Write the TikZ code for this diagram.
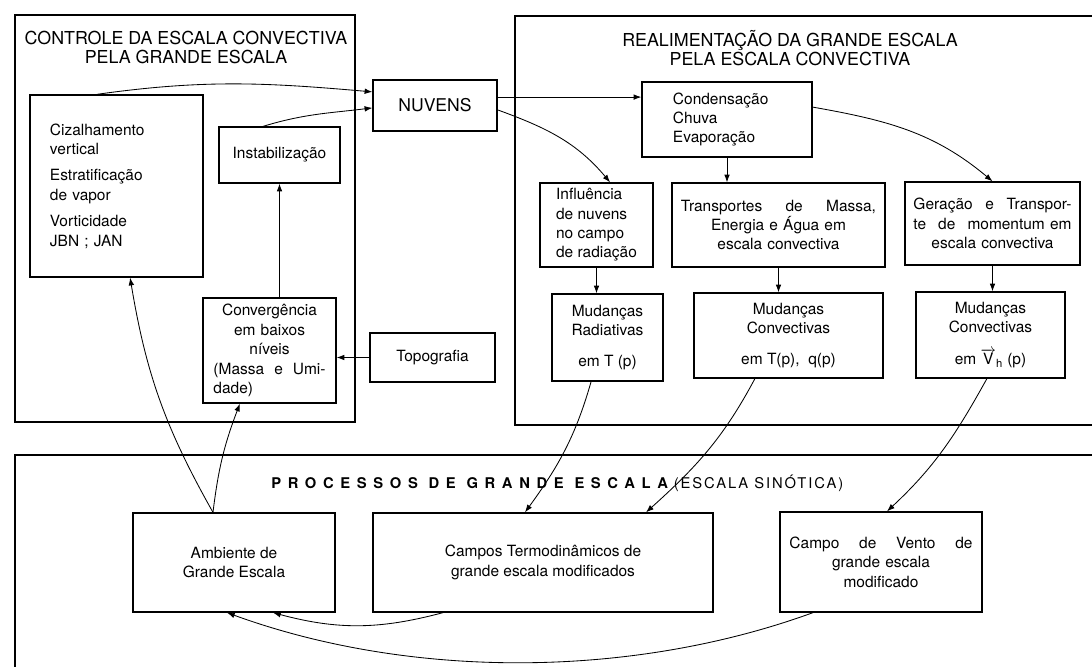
\documentclass[tikz,border=0pt]{standalone}
\usepackage{fontspec}
\setmainfont{TeX Gyre Heros}
\usetikzlibrary{arrows.meta}
\begin{document}
\begin{tikzpicture}[x=0.025cm,y=0.025cm,
  box/.style={draw,line width=0.9pt,inner sep=2pt,font=\fontsize{11}{13.8}\selectfont},
  arr/.style={semithick,-{Latex[length=5.5pt,width=4pt]}},
  ttl/.style={align=center,font=\fontsize{12.7}{13.5}\selectfont}]
\clip (0,0) rectangle (1092,666);
\draw[line width=0.9pt] (15,651) rectangle (355,244);
\draw[line width=0.9pt] (515,650) rectangle (1100,241);
\draw[line width=0.9pt] (15,211) rectangle (1100,-20);
\node[ttl] (ctrltitle) at (186,618.5) {CONTROLE DA ESCALA CONVECTIVA\\PELA GRANDE ESCALA};
\node[ttl] (realtitle) at (790,617.5) {REALIMENTAÇÃO DA GRANDE ESCALA\\PELA ESCALA CONVECTIVA};
\node[anchor=west,inner sep=0pt,font=\fontsize{10.5}{12}\selectfont] (proctitle) at (271,183)
  {{\bfseries\addfontfeature{LetterSpace=45}PROCESSOS DE GRANDE ESCALA}\hspace{4pt}{\addfontfeature{LetterSpace=13}(ESCALA SINÓTICA)}};
\node[box,minimum width=4.325cm,minimum height=4.55cm,text width=3.325cm,align=left] (cis) at (116.5,480)
  {Cizalhamento\\vertical\\[5pt]Estratificação\\de vapor\\[5pt]Vorticidade\\JBN ; JAN};
\node[box,minimum width=3.025cm,minimum height=1.4cm] (inst) at (279.5,511) {Instabilização};
\node[box,minimum width=3.325cm,minimum height=2.625cm,text width=2.8cm,align=center] (conv) at (269.5,315.5)
  {Convergência\\em baixos\\níveis\\\makebox[2.8cm]{(Massa\hfill e\hfill Umi-}\\\makebox[2.8cm]{dade)\hfill}};
\node[box,minimum width=3.1cm,minimum height=1.275cm,font=\fontsize{12.5}{14}\selectfont] (nuv) at (435,560.5) {NUVENS};
\node[box,minimum width=3.125cm,minimum height=1.225cm] (topo) at (432.5,308.5) {Topografia};
\node[box,minimum width=4.25cm,minimum height=1.875cm,text width=2.7cm,align=left] (cond) at (727,546.5)
  {Condensação\\Chuva\\Evaporação};
\node[box,minimum width=2.825cm,minimum height=2.1cm,align=left] (infl) at (596.5,441)
  {Influência\\de nuvens\\no campo\\de radiação};
\node[box,minimum width=5.325cm,minimum height=2.1cm,text width=4.875cm,align=center] (trans) at (778.5,441)
  {\makebox[4.875cm]{Transportes\hfill de\hfill Massa,}\\Energia e Água em\\escala convectiva};
\node[box,minimum width=4.375cm,minimum height=2.075cm,text width=3.95cm,align=center] (ger) at (992.5,442.5)
  {\makebox[3.95cm]{Geração\hfill e\hfill Transpor-}\\\makebox[3.95cm]{te\hfill de\hfill momentum em}\\escala convectiva};
\node[box,minimum width=2.775cm,minimum height=2.175cm,align=center] (mrad) at (607.5,328.5)
  {Mudanças\\Radiativas\\[8pt]em T (p)};
\node[box,minimum width=4.725cm,minimum height=2.125cm,align=center] (mconv) at (788.5,330.5)
  {Mudanças\\Convectivas\\[8pt]em T(p),\ \ q(p)};
\node[box,minimum width=3.725cm,minimum height=2.15cm,align=center] (mvh) at (990.5,331)
  {Mudanças\\Convectivas\\[9pt]em $\overrightarrow{\mbox{V}}_{\mbox{\footnotesize h}}$ (p)};
\node[box,minimum width=5.05cm,minimum height=2.475cm,align=center] (amb) at (234,103.5)
  {Ambiente de\\Grande Escala};
\node[box,minimum width=8.5cm,minimum height=2.475cm,align=center] (campos) at (543,103.5)
  {Campos Termodinâmicos de\\grande escala modificados};
\node[box,minimum width=5.05cm,minimum height=2.5cm,text width=4.575cm,align=center] (vento) at (881,104)
  {\makebox[4.575cm]{Campo\hfill de\hfill Vento\hfill de}\\grande escala\\modificado};
\draw[arr] ([xshift=-0.49cm]cis.north) to[out=8,in=175] ([yshift=0.34cm]nuv.west);
\draw[arr] ([xshift=-0.41cm]inst.north) to[out=17,in=187] ([yshift=-0.06cm]nuv.west);
\draw[arr] ([yshift=0.21cm]nuv.east) -- ([yshift=0.21cm]nuv.east -| cond.west);
\draw[arr] ([yshift=-0.11cm]nuv.east) to[out=-20,in=130] ([xshift=0.34cm]infl.north);
\draw[arr] ([yshift=0.31cm]cond.east) to[out=-10,in=140] (ger.north);
\draw[arr] (cond.south) -- (cond.south |- trans.north);
\draw[arr] (infl.south) -- (infl.south |- mrad.north);
\draw[arr] (trans.south) -- (trans.south |- mconv.north);
\draw[arr] (ger.south) -- (ger.south |- mvh.north);
\draw[arr] (inst.south |- conv.north) -- (inst.south);
\draw[arr] (topo.west) -- (topo.west -| conv.east);
\draw[arr] ([xshift=-0.525cm]amb.north) to[bend left=10] ([xshift=0.34cm]cis.south);
\draw[arr] ([xshift=-0.525cm]amb.north) to[bend left=7] ([xshift=-0.74cm]conv.south);
\draw[arr] ([xshift=-0.41cm]mrad.south) to[out=254,in=54] ([xshift=-0.45cm]campos.north);
\draw[arr] ([xshift=-0.84cm]mconv.south) to[out=242,in=42] ([xshift=2.575cm]campos.north);
\draw[arr] ([xshift=-0.09cm]mvh.south) to[out=241,in=43] ([xshift=0.15cm]vento.north);
\draw[arr] ([xshift=-2.5cm]campos.south) to[out=195,in=-15] ([xshift=0.975cm]amb.south);
\draw[arr] ([xshift=-1.7cm]vento.south) to[out=200,in=-20,looseness=0.85] ([xshift=-0.175cm]amb.south);
\end{tikzpicture}
\end{document}
